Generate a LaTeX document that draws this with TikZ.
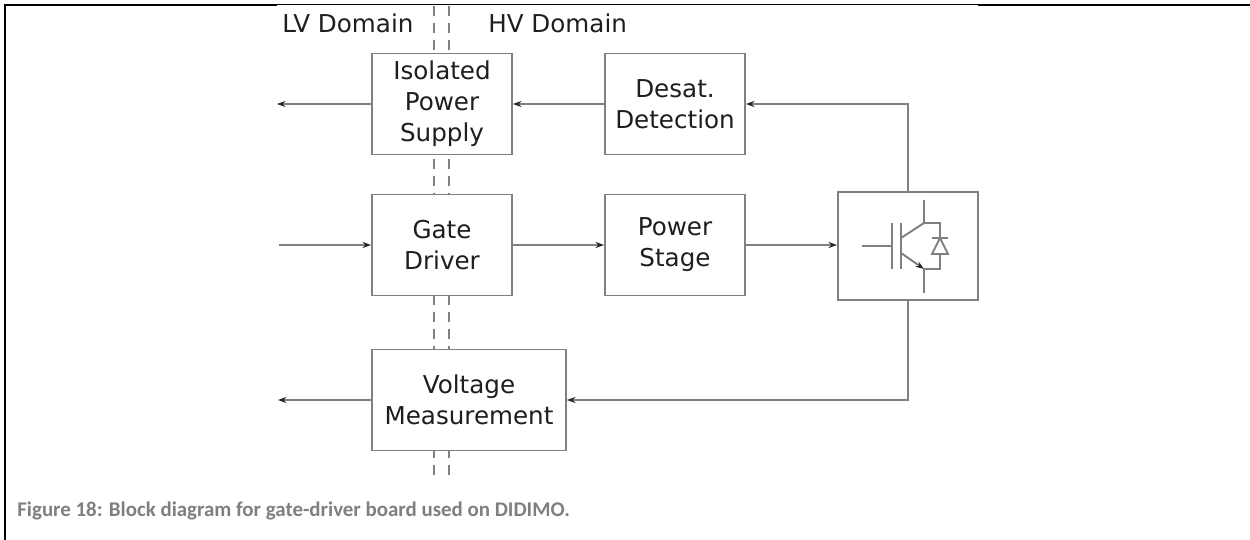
\documentclass[tikz,border=0pt]{standalone}
\usepackage{fontspec}
\setmainfont{DejaVu Sans}
\newfontfamily\captionfont{Carlito}
\usetikzlibrary{arrows.meta}
\definecolor{boxgray}{HTML}{808080}
\definecolor{labelgray}{HTML}{1E1E1E}
\definecolor{capgray}{HTML}{7F7F7F}

\begin{document}
\begin{tikzpicture}
          [x=0.02cm,y=-0.02cm,
           blk/.style={draw=boxgray, line width=1.1pt, fill=white, inner sep=0pt, minimum width=2.8cm, minimum height=2.02cm, align=center, text=labelgray, font=\fontsize{14}{17.6}\selectfont},
           sig/.style={draw=boxgray, line width=1.1pt, -{Stealth[length=0.17cm, width=0.12cm, color=black!85]}},
           domlabel/.style={anchor=base west, inner sep=0pt, text=labelgray, font=\fontsize{14}{17.6}\selectfont}]
        \useasboundingbox (0,0) rectangle (1250,540);

        % page frame
        \draw[line width=1.6pt] (5,540) -- (5,5) -- (277,5);
        \draw[line width=0.7pt] (277,4.5) -- (978,4.5);
        \draw[line width=1.6pt] (978,5) -- (1250,5);

        % isolation barrier
        \foreach \xb in {434,449}
          \draw[boxgray, line width=1.1pt, dash pattern=on 0.2cm off 0.14cm] (\xb,6) -- (\xb,476);

        \node[domlabel] (lv) at (282,33) {LV Domain};
        \node[domlabel] (hv) at (488,33) {HV Domain};

        \node[blk] (ips) at (442,104) {Isolated\\Power\\Supply};
        \node[blk] (desat) at (675,104) {Desat.\\Detection};
        \node[blk] (gd) at (442,245) {Gate\\Driver};
        \node[blk] (ps) at (675,245) {Power\\Stage};
        \node[blk, minimum height=2.16cm] (igbt) at (908,246) {};
        \node[blk, minimum width=3.88cm] (vm) at (469,400) {Voltage\\Measurement};

        \coordinate (inp) at (279,245);
        \coordinate (out1) at (277,104);
        \coordinate (out2) at (278,400);

        \foreach \from/\to in {desat/ips, ips/out1, inp/gd, gd/ps, vm/out2}
          \draw[sig] (\from) -- (\to);
        \draw[sig] (ps.east) -- (ps.east -| igbt.west);
        \draw[sig] (igbt.north) |- (desat.east);
        \draw[sig] (igbt.south) |- (vm.east);

        % igbt with diode
        \begin{scope}[shift={(igbt.center)}, boxgray, line width=1.1pt]
          \draw (-46,0) -- (-16,0);
          \draw (-16,-23) -- (-16,23);
          \draw (-7,-23) -- (-7,23);
          \draw (-7,-8) -- (16,-23) -- (16,-46);
          \draw[-{Stealth[length=0.17cm, width=0.12cm, color=black!85]}] (-7,7) -- (16,23);
          \draw (16,23) -- (16,47);
          \draw (16,-23) -- (32,-23) -- (32,23) -- (16,23);
          \draw[fill=white] (32,-8) -- (24,8) -- (40,8) -- cycle;
          \draw (24,-8) -- (40,-8);
        \end{scope}

        \node[anchor=base west, inner sep=0pt, text=capgray, font=\captionfont\bfseries\fontsize{11.9}{14}\selectfont] (cap) at (17,516) {Figure 18: Block diagram for gate-driver board used on DIDIMO.};
      \end{tikzpicture}
\end{document}
